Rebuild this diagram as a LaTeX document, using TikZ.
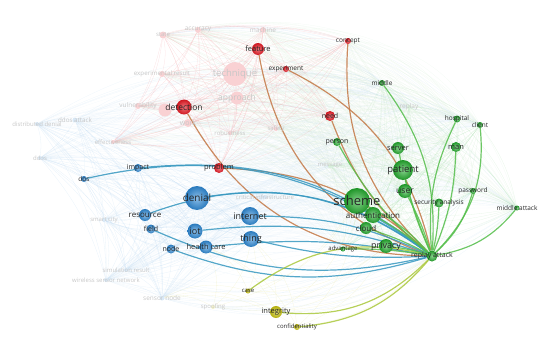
\documentclass[tikz,border=0pt]{standalone}
\usepackage{fontspec}
\setmainfont{Open Sans}
\usetikzlibrary{backgrounds}

\definecolor{vred}{RGB}{225,25,35}
\definecolor{vblue}{RGB}{45,135,210}
\definecolor{vgreen}{RGB}{35,170,45}
\definecolor{vyellow}{RGB}{195,190,10}
\definecolor{ered}{RGB}{195,120,70}
\definecolor{eblue}{RGB}{55,152,192}
\definecolor{egreen}{RGB}{85,190,75}
\definecolor{eyellow}{RGB}{170,200,60}

% term sets for the faint background links
\newcommand{\redterms}{state,accuracy,machine,feature,concept,experiment,expres,technique,approach,detection,vuln,work,robust,safety,effect,need,problem}
\newcommand{\blueterms}{ddist,ddosa,ddos,dosn,impact,denial,resource,field,iot,hcare,nodeb,internet,thing,smart,simres,wsn,snode,crit}
\newcommand{\greenterms}{middle,replayf,hospital,client,person,server,man,message,patient,user,password,secan,midatt,scheme,auth,cloud,advantage,privacy,rpa}

\begin{document}
\begin{tikzpicture}[x=1pt,y=-1pt,
  ball/.style={circle,inner sep=0pt,minimum size=#1},
  rd/.style={ball=#1,shading=radial,inner color=vred!60!white,outer color=vred!92!black},
  bl/.style={ball=#1,shading=radial,inner color=vblue!55!white,outer color=vblue!90!black},
  gr/.style={ball=#1,shading=radial,inner color=vgreen!55!white,outer color=vgreen!88!black},
  yl/.style={ball=#1,shading=radial,inner color=vyellow!55!white,outer color=vyellow!92!black},
  frd/.style={ball=#1,fill=vred!20},
  fbl/.style={ball=#1,fill=vblue!18},
  fgr/.style={ball=#1,fill=vgreen!18},
  fyl/.style={ball=#1,fill=vyellow!22},
  t/.style={font=\fontsize{#1}{#1}\selectfont,text=black!85,inner sep=0pt},
  ft/.style={font=\fontsize{#1}{#1}\selectfont,text=black!22,inner sep=0pt},
  hl/.style={line width=1.2pt,draw=#1,opacity=0.85},
  bg/.style={line width=0.3pt,draw=#1,opacity=0.35}]
  \useasboundingbox (0,0) rectangle (550,348);

  % Faint terms
  \node[frd=7,  label={[ft=6]center:state}]               (state)     at (163,35)  {};
  \node[frd=6,  label={[ft=6.5]center:accuracy}]          (accuracy)  at (198,30)  {};
  \node[frd=6,  label={[ft=6.5]center:machine}]           (machine)   at (263,30)  {};
  \node[frd=6,  label={[ft=6.2]center:experimental result}] (expres)  at (162,74)  {};
  \node[frd=24, label={[ft=9.5]center:technique}]         (technique) at (235,74)  {};
  \node[frd=13, label={[ft=8.5]center:approach}]          (approach)  at (237,98)  {};
  \node[frd=6,  label={[ft=6.5]center:vulnerability}]     (vuln)      at (138,106) {};
  \node[frd=13]                                           (blob)      at (165,110) {};
  \node[frd=8,  label={[ft=7]center:work}]                (work)      at (188,123) {};
  \node[frd=4,  label={[ft=6]center:robustness}]          (robust)    at (230,133) {};
  \node[frd=4,  label={[ft=6]center:safety}]              (safety)    at (276,129) {};
  \node[frd=4,  label={[ft=6]center:effectiveness}]       (effect)    at (113,142) {};
  \node[fbl=4,  label={[ft=6]center:distributed denial}]  (ddist)     at (37,124)  {};
  \node[fbl=5,  label={[ft=6.3]center:ddos attack}]       (ddosa)     at (75,120)  {};
  \node[fbl=4,  label={[ft=6]center:ddos}]                (ddos)      at (40,158)  {};
  \node[fbl=4,  label={[ft=6]center:smart city}]          (smart)     at (104,220) {};
  \node[fbl=4,  label={[ft=6]center:simulation result}]   (simres)    at (126,270) {};
  \node[fbl=4,  label={[ft=6]center:wireless sensor network}] (wsn)   at (106,280) {};
  \node[fbl=5,  label={[ft=6.5]center:sensor node}]       (snode)     at (162,298) {};
  \node[fbl=4,  label={[ft=6]center:critical infrastructure}] (crit)  at (265,197) {};
  \node[fyl=4,  label={[ft=6]center:spoofing}]            (spoof)     at (213,307) {};
  \node[fgr=4,  label={[ft=6]center:message}]             (message)   at (330,166) {};
  \node[fgr=4,  label={[ft=6.5]center:replay}]            (replayf)   at (409,107) {};

  % Red cluster
  \node[rd=12, label={[t=7.5]center:feature}]    (feature)    at (258,49)  {};
  \node[rd=6,  label={[t=6.5]center:concept}]    (concept)    at (348,41)  {};
  \node[rd=6,  label={[t=6.5]center:experiment}] (experiment) at (286,69)  {};
  \node[rd=15, label={[t=8.5]center:detection}]  (detection)  at (184,107) {};
  \node[rd=10, label={[t=7]center:need}]         (need)       at (330,116) {};
  \node[rd=10, label={[t=7.5]center:problem}]    (problem)    at (219,168) {};

  % Blue cluster
  \node[bl=6,  label={[t=6.5]center:dos}]        (dosn)     at (84,179)  {};
  \node[bl=8,  label={[t=7]center:impact}]       (impact)   at (138,168) {};
  \node[bl=24, label={[t=10]center:denial}]      (denial)   at (197,198) {};
  \node[bl=12, label={[t=8]center:resource}]     (resource) at (145,215) {};
  \node[bl=9,  label={[t=7]center:field}]        (field)    at (151,229) {};
  \node[bl=15, label={[t=9]center:iot}]          (iot)      at (195,231) {};
  \node[bl=9,  label={[t=7]center:node}]         (nodeb)    at (171,249) {};
  \node[bl=13, label={[t=7.5]center:health care}] (hcare)   at (206,247) {};
  \node[bl=18, label={[t=9]center:internet}]     (internet) at (250,216) {};
  \node[bl=16, label={[t=9]center:thing}]        (thing)    at (251,239) {};

  % Yellow cluster
  \node[yl=5,  label={[t=6]center:case}]            (case)      at (248,291) {};
  \node[yl=12, label={[t=7.5]center:integrity}]     (integrity) at (276,312) {};
  \node[yl=6,  label={[t=6]center:confidentiality}] (confid)    at (297,327) {};

  % Green cluster
  \node[gr=6,  label={[t=6.5]center:middle}]       (middle)    at (382,83)  {};
  \node[gr=7,  label={[t=6.5]center:hospital}]     (hospital)  at (457,119) {};
  \node[gr=6,  label={[t=6.5]center:client}]       (client)    at (480,125) {};
  \node[gr=8,  label={[t=7]center:person}]         (person)    at (337,142) {};
  \node[gr=12, label={[t=7.5]center:server}]       (server)    at (398,148) {};
  \node[gr=10, label={[t=7.5]center:man}]          (man)       at (456,147) {};
  \node[gr=20, label={[t=9.5]center:patient}]      (patient)   at (403,170) {};
  \node[gr=14, label={[t=8.5]center:user}]         (user)      at (405,191) {};
  \node[gr=6,  label={[t=6.5]center:password}]     (password)  at (473,191) {};
  \node[gr=9,  label={[t=6.5]center:security analysis}] (secan) at (439,203) {};
  \node[gr=5,  label={[t=6.5]center:middle attack}] (midatt)   at (517,208) {};
  \node[gr=26, label={[t=13]center:scheme}]        (scheme)    at (357,201) {};
  \node[gr=16, label={[t=8]center:authentication}] (auth)      at (373,215) {};
  \node[gr=12, label={[t=8]center:cloud}]          (cloud)     at (366,228) {};
  \node[gr=5,  label={[t=6]center:advantage}]      (advantage) at (343,249) {};
  \node[gr=14, label={[t=9]center:privacy}]        (privacy)   at (386,246) {};
  \node[gr=11, label={[t=7]center:replay attack}]  (rpa)       at (432,256) {};

  \begin{scope}[on background layer]
    % faint links between clusters
    \foreach \a in \redterms
      \foreach \b in \greenterms
        \draw[bg=vred!12!vgreen!20,opacity=0.25] (\a) to[bend left=15] (\b);
    \foreach \a in \blueterms
      \foreach \b in \greenterms
        \draw[bg=vblue!20,opacity=0.2] (\a) to[bend left=15] (\b);
    \foreach \a in {ddist,ddosa,ddos,effect,state,accuracy}
      \foreach \b in {middle,hospital,client,midatt,replayf}
        \draw[bg=vblue!22] (\a) to[bend left=25] (\b);
    \foreach \a in {state,accuracy,machine,concept}
      \foreach \b in {hospital,client,midatt,password}
        \draw[bg=vgreen!20,opacity=0.25] (\a) to[bend left=30] (\b);
    \foreach \a in {wsn,simres,snode,spoof,smart}
      \foreach \b in {rpa,midatt,privacy,password}
        \draw[bg=vblue!22] (\a) to[bend right=25] (\b);
    % faint links inside each cluster
    \foreach \a [count=\i] in \redterms
      \foreach \b [count=\j] in \redterms
        {\ifnum\j>\i \draw[bg=vred!35] (\a) to[bend left=12] (\b);\fi}
    \foreach \a [count=\i] in \blueterms
      \foreach \b [count=\j] in \blueterms
        {\ifnum\j>\i \draw[bg=vblue!30] (\a) to[bend left=12] (\b);\fi}
    \foreach \a [count=\i] in \greenterms
      \foreach \b [count=\j] in \greenterms
        {\ifnum\j>\i \draw[bg=vgreen!30] (\a) to[bend left=12] (\b);\fi}
    \foreach \a in {case,integrity,confid,spoof}
      \foreach \b in {rpa,privacy,scheme,snode,thing,hcare}
        \draw[bg=vyellow!35] (\a) to[bend right=20] (\b);

    % links of replay attack
    \foreach \s/\b in {feature/-30,concept/-25,experiment/25,detection/-30,need/-15,problem/20}
      \draw[hl=ered] (\s) to[bend left=\b] (rpa);
    \foreach \s/\b in {dosn/25,impact/22,denial/22,resource/28,field/-18,nodeb/-18,hcare/8,iot/12,internet/12,thing/-8}
      \draw[hl=eblue] (\s) to[bend left=\b] (rpa);
    \foreach \s/\b in {case/25,integrity/-25,confid/-22}
      \draw[hl=eyellow] (\s) to[bend left=\b] (rpa);
    \foreach \s/\b in {person/-10,middle/20,hospital/-15,client/25,man/10,server/-5,patient/-5,user/5,password/15,secan/5,midatt/20,scheme/10,auth/5,cloud/5,privacy/5,advantage/5}
      \draw[hl=egreen] (\s) to[bend left=\b] (rpa);
  \end{scope}
\end{tikzpicture}
\end{document}
